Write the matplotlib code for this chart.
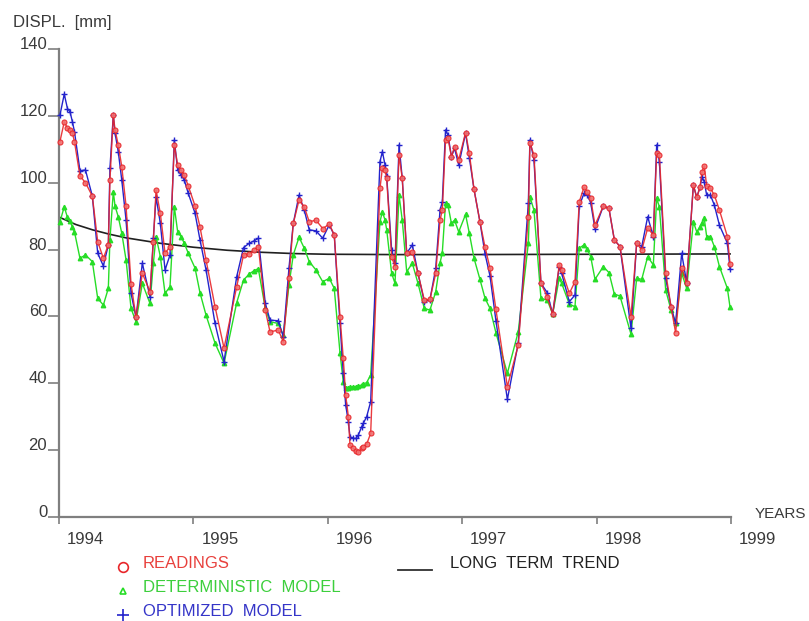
import matplotlib
matplotlib.use("Agg")
import matplotlib.pyplot as plt
from matplotlib.transforms import ScaledTranslation
import numpy as np

plt.rcParams['font.family'] = ['Liberation Sans', 'DejaVu Sans']

# Reading dates (decimal years)
dates = [
    1994.007, 1994.039, 1994.063, 1994.082, 1994.100, 1994.115, 1994.156, 1994.197,
    1994.248, 1994.288, 1994.330, 1994.367, 1994.379, 1994.404, 1994.417, 1994.441,
    1994.467, 1994.499, 1994.536, 1994.573, 1994.620, 1994.677, 1994.702, 1994.722,
    1994.754, 1994.789, 1994.826, 1994.858, 1994.883, 1994.908, 1994.932, 1994.962,
    1995.012, 1995.049, 1995.094, 1995.161, 1995.228, 1995.322, 1995.373, 1995.416,
    1995.451, 1995.483, 1995.535, 1995.570, 1995.632, 1995.669, 1995.711, 1995.743,
    1995.786, 1995.825, 1995.862, 1995.912, 1995.962, 1996.011, 1996.048, 1996.091,
    1996.115, 1996.133, 1996.153, 1996.165, 1996.190, 1996.210, 1996.227, 1996.252,
    1996.264, 1996.289, 1996.319, 1996.388, 1996.406, 1996.426, 1996.438, 1996.475,
    1996.500, 1996.530, 1996.554, 1996.587, 1996.629, 1996.671, 1996.718, 1996.760,
    1996.803, 1996.835, 1996.852, 1996.876, 1996.894, 1996.920, 1996.943, 1996.974,
    1997.025, 1997.053, 1997.088, 1997.132, 1997.170, 1997.207, 1997.251, 1997.336,
    1997.417, 1997.492, 1997.504, 1997.534, 1997.586, 1997.633, 1997.673, 1997.722,
    1997.740, 1997.797, 1997.839, 1997.871, 1997.906, 1997.931, 1997.956, 1997.988,
    1998.050, 1998.092, 1998.132, 1998.174, 1998.256, 1998.298, 1998.336, 1998.380,
    1998.422, 1998.447, 1998.467, 1998.514, 1998.554, 1998.588, 1998.633, 1998.670,
    1998.720, 1998.745, 1998.769, 1998.784, 1998.801, 1998.819, 1998.847, 1998.876,
    1998.914, 1998.973, 1998.993,
]

readings = [
    112.3, 118.2, 116.3, 115.8, 114.8, 112.3, 102.0, 100.0,
    96.0, 82.4, 77.4, 81.4, 100.8, 120.2, 115.8, 111.3,
    104.8, 93.0, 69.7, 59.7, 72.9, 67.4, 82.4, 97.8,
    90.8, 78.9, 80.9, 111.3, 105.3, 103.8, 102.3, 99.0,
    93.1, 86.8, 76.9, 62.9, 50.5, 68.9, 78.4, 78.7,
    79.9, 80.9, 61.9, 55.4, 55.9, 52.4, 71.4, 87.8,
    94.8, 92.8, 88.3, 88.8, 86.3, 87.6, 84.4, 59.9,
    47.5, 36.5, 30.0, 21.5, 20.5, 19.8, 19.5, 20.5,
    21.0, 21.8, 25.0, 98.3, 104.3, 103.8, 101.3, 77.9,
    74.9, 108.3, 101.3, 78.9, 79.4, 72.9, 64.9, 65.1,
    72.9, 88.8, 91.8, 112.8, 113.3, 107.8, 110.8, 106.8,
    115.0, 108.8, 98.0, 88.3, 80.7, 74.4, 62.1, 39.0,
    51.4, 89.8, 111.8, 108.3, 69.9, 65.9, 60.7, 75.4,
    73.9, 66.9, 70.4, 94.3, 98.6, 97.3, 95.3, 87.3,
    93.0, 92.3, 82.9, 80.9, 59.9, 81.9, 79.9, 86.4,
    84.4, 108.8, 108.3, 73.1, 62.9, 55.1, 74.4, 69.9,
    99.3, 95.6, 98.6, 103.3, 105.0, 99.0, 98.3, 96.3,
    91.8, 83.9, 75.7,
]

optimized = [
    120.2, 126.5, 122.2, 121.2, 118.2, 115.3, 103.6, 103.8,
    96.0, 78.9, 75.1, 81.4, 104.3, 120.2, 114.8, 109.3,
    100.8, 88.8, 66.9, 59.7, 75.9, 65.9, 83.4, 95.8,
    87.8, 73.9, 78.4, 112.8, 103.8, 102.3, 100.8, 96.8,
    90.9, 82.9, 73.9, 57.9, 46.5, 71.9, 80.6, 81.9,
    82.6, 83.4, 63.9, 58.9, 58.7, 53.9, 74.4, 87.8,
    96.3, 91.8, 85.9, 85.6, 83.4, 87.4, 84.3, 57.9,
    43.0, 33.5, 28.5, 24.0, 23.5, 23.5, 24.5, 27.0,
    28.0, 30.0, 34.5, 106.3, 109.3, 105.3, 102.0, 79.9,
    75.9, 111.3, 101.3, 78.9, 81.4, 72.9, 64.4, 65.0,
    74.4, 91.8, 94.3, 115.8, 114.3, 107.8, 110.3, 105.3,
    114.8, 107.5, 98.0, 88.3, 78.7, 72.1, 58.7, 35.2,
    52.0, 93.8, 112.8, 106.8, 69.9, 67.1, 60.7, 74.9,
    72.9, 64.4, 66.4, 93.0, 96.8, 96.3, 94.0, 86.2,
    93.0, 92.3, 82.9, 80.9, 56.4, 81.9, 80.9, 89.8,
    83.9, 111.3, 106.3, 71.4, 62.9, 57.9, 78.9, 70.1,
    99.3, 95.6, 98.6, 101.8, 100.3, 96.3, 96.3, 93.3,
    87.3, 81.9, 74.1,
]

deterministic = [
    88.3, 92.8, 89.6, 88.5, 86.8, 85.3, 77.4, 78.4,
    76.4, 65.4, 63.4, 68.4, 83.0, 97.3, 93.0, 89.8,
    84.9, 76.9, 62.4, 58.4, 69.9, 63.9, 75.9, 83.9,
    77.9, 66.9, 68.9, 92.8, 85.3, 83.9, 81.9, 78.9,
    74.5, 67.1, 60.4, 52.0, 46.0, 64.1, 70.9, 72.7,
    73.7, 74.3, 62.4, 58.4, 57.9, 54.4, 69.4, 78.4,
    83.7, 80.4, 76.4, 73.9, 70.4, 71.4, 68.4, 49.0,
    40.5, 38.5, 38.5, 38.8, 39.0, 39.0, 39.2, 39.5,
    39.8, 40.2, 42.5, 88.3, 91.3, 88.8, 86.0, 72.9,
    69.9, 96.3, 88.8, 73.4, 75.9, 69.9, 62.4, 61.9,
    67.4, 76.0, 79.1, 93.8, 93.3, 87.8, 88.8, 85.3,
    90.5, 84.9, 77.4, 71.1, 65.4, 62.4, 55.1, 43.0,
    55.4, 81.9, 95.8, 91.8, 65.4, 64.9, 60.7, 71.4,
    69.9, 63.7, 62.9, 80.4, 81.4, 80.1, 77.9, 71.1,
    74.9, 73.1, 66.7, 66.1, 54.7, 71.4, 71.1, 77.9,
    75.4, 95.3, 92.8, 67.9, 61.9, 57.9, 72.9, 68.4,
    88.3, 85.3, 86.8, 88.0, 89.3, 83.9, 83.9, 80.9,
    74.9, 68.4, 62.7,
]

# Long term trend
trend_dates = [1994.007, 1994.125, 1994.25, 1994.375, 1994.5, 1994.75, 1995.0,
               1995.25, 1995.5, 1995.75, 1996.0, 1996.5, 1997.0, 1998.0, 1998.993]
trend_values = [89.6, 87.5, 85.9, 84.6, 83.5, 81.9, 80.7,
                79.8, 79.2, 78.8, 78.6, 78.5, 78.5, 78.6, 78.7]

year_ticks = [1994, 1995, 1996, 1997, 1998, 1999]
displ_ticks = [0, 20, 40, 60, 80, 100, 120, 140]

RED = '#e8262a'
GREEN = '#26dd26'
BLUE = '#2323cc'
AXIS = '#7f7f7f'
TEXT = '#3a3a3a'

W, H = 809, 621
fig = plt.figure(figsize=(W / 100, H / 100), dpi=100)
ax = fig.add_axes([59 / W, 1 - 517 / H, 672 / W, 468 / H])


def fx(x):
    return x / W


def fy(y):
    return 1 - y / H


ax.plot(trend_dates, trend_values, color='#202020', lw=1.2, zorder=2)
ax.plot(dates, deterministic, color=GREEN, lw=1.0, marker='^', ms=3.2,
        mfc=GREEN, mec=GREEN, clip_on=False, zorder=3)
ax.plot(dates, optimized, color=BLUE, lw=1.0, marker='+', ms=4.5, mew=1.0,
        clip_on=False, zorder=4)
ax.plot(dates, readings, color=RED, lw=1.0, marker='o', ms=3.6, mfc='#f07070',
        mec=RED, mew=0.8, alpha=0.9, clip_on=False, zorder=5)

ax.set_xlim(1994, 1999)
ax.set_ylim(0, 140)

for side in ['top', 'right']:
    ax.spines[side].set_visible(False)
for side in ['left', 'bottom']:
    ax.spines[side].set_color(AXIS)
    ax.spines[side].set_linewidth(1.6)

ax.set_yticks(displ_ticks)
ax.set_yticklabels([str(v) for v in displ_ticks])
ax.tick_params(axis='y', direction='out', length=8, width=1.2, color=AXIS,
               pad=0.5, labelsize=12, labelcolor=TEXT)
for lab in ax.get_yticklabels():
    lab.set_verticalalignment('baseline')

ax.set_xticks(year_ticks)
ax.set_xticklabels([str(y) for y in year_ticks], ha='left')
ax.tick_params(axis='x', direction='out', length=5, width=1.2, color=AXIS,
               pad=6, labelsize=12, labelcolor=TEXT)
shift = ScaledTranslation(8 / 100, 0, fig.dpi_scale_trans)
for lab in ax.get_xticklabels():
    lab.set_transform(lab.get_transform() + shift)

fig.text(fx(13), fy(22), 'DISPL.  [mm]', fontsize=12, color=TEXT, va='center')
fig.text(fx(755), fy(514), 'YEARS', fontsize=11, color=TEXT, va='center')

# legend block under the axis
fig.add_artist(plt.Line2D([fx(123)], [fy(567)], marker='o', ms=7, mfc='none',
                          mec=RED, mew=1.2, transform=fig.transFigure))
fig.add_artist(plt.Line2D([fx(123)], [fy(591)], marker='^', ms=5, mfc='none',
                          mec=GREEN, mew=1.2, transform=fig.transFigure))
fig.add_artist(plt.Line2D([fx(123)], [fy(615)], marker='+', ms=8, mec=BLUE,
                          mew=1.2, transform=fig.transFigure))
fig.text(fx(143), fy(563), 'READINGS', fontsize=12, color='#e8403c', va='center')
fig.text(fx(143), fy(588), 'DETERMINISTIC  MODEL', fontsize=12, color='#3ccf3c',
         va='center')
fig.text(fx(143), fy(611), 'OPTIMIZED  MODEL', fontsize=12, color='#3535c8',
         va='center')
fig.add_artist(plt.Line2D([fx(398), fx(432)], [fy(570), fy(570)], color='#303030',
                          lw=1.3, transform=fig.transFigure))
fig.text(fx(450), fy(563), 'LONG  TERM  TREND', fontsize=12, color='#202020',
         va='center')

fig.savefig('out.png', dpi=100)
